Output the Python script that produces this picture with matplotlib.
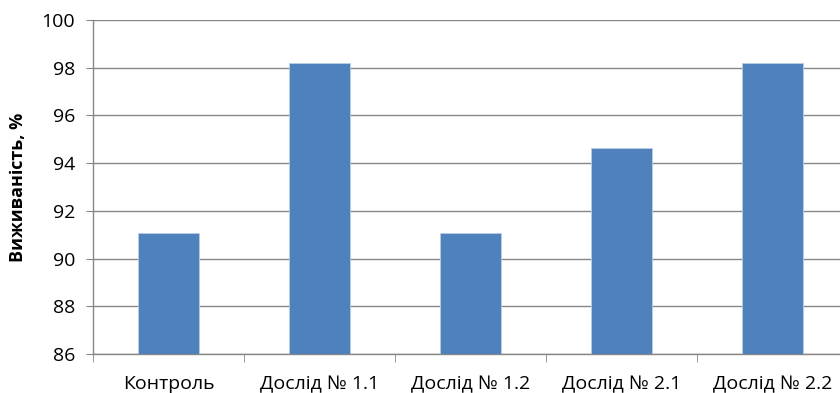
import numpy as np
import matplotlib.pyplot as plt

plt.rcParams['font.family'] = ['Open Sans', 'DejaVu Sans']

categories = ['Контроль', 'Дослід № 1.1', 'Дослід № 1.2', 'Дослід № 2.1', 'Дослід № 2.2']
survival = [91.07, 98.21, 91.07, 94.64, 98.21]
yticks = [86, 88, 90, 92, 94, 96, 98, 100]

fig = plt.figure(figsize=(8.4, 3.93), dpi=100)
ax = fig.add_axes([0.1107, 0.0992, 0.8988, 0.8499])

x = np.arange(len(categories))
ax.bar(x, survival, width=0.405, bottom=0, color='#4F81BD', edgecolor='#B9CDE5',
       linewidth=0.6, zorder=3)

ax.set_ylim(86, 100)
ax.set_xlim(-0.5, len(categories) - 0.5)
ax.set_yticks(yticks)
ax.tick_params(axis='y', labelsize=14, length=5, color='#868686', pad=8)
ax.grid(axis='y', color='#868686', linewidth=1.0, zorder=0)

# category labels centred, tick marks on the category boundaries
ax.set_xticks(x)
ax.set_xticklabels(categories, fontsize=14)
ax.tick_params(axis='x', length=0, pad=15)
ax.set_xticks(np.arange(-0.5, len(categories) - 0.4, 1), minor=True)
ax.tick_params(axis='x', which='minor', length=6, color='#868686')

for side in ['top', 'right']:
    ax.spines[side].set_visible(False)
ax.spines['left'].set_color('#868686')
ax.spines['bottom'].set_color('#868686')
ax.spines['left'].set_linewidth(1.0)
ax.spines['bottom'].set_linewidth(1.0)

ax.set_ylabel('Виживаність, %', fontsize=13, fontweight='bold', labelpad=10)

fig.savefig('out.png', dpi=100)
